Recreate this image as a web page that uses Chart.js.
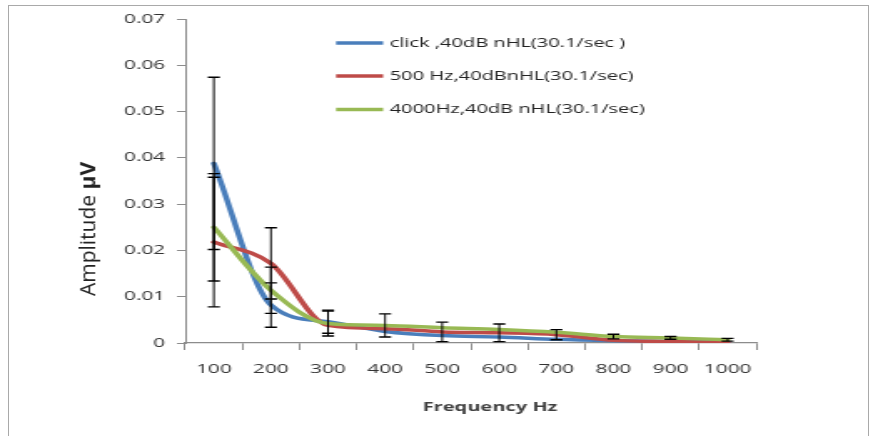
<!DOCTYPE html>
<html><head><meta charset="utf-8">
<script src="https://cdn.jsdelivr.net/npm/chart.js@4/dist/chart.umd.min.js"></script>
<style>
html,body{margin:0;padding:0;background:#fff;overflow:hidden;width:873px;height:436px;}
#frame{position:absolute;left:8px;top:5px;width:861px;height:445px;border:1.5px solid #a9a9a9;box-sizing:border-box;}
#wrap{position:absolute;left:0;top:0;width:523px;height:436px;transform:scaleX(1.66922);transform-origin:0 0;}
</style></head><body>
<div id="frame"></div>
<div id="wrap"><canvas id="c"></canvas></div>
<script>
// ---- data ----
const categories = ['100','200','300','400','500','600','700','800','900','1000'];
const clickValues  = [0.0388, 0.0082, 0.0046, 0.0025, 0.0016, 0.0013, 0.0008, 0.0005, 0.0003, 0.0002];
const hz500Values  = [0.0218, 0.0172, 0.0038, 0.0031, 0.0024, 0.0022, 0.0018, 0.0006, 0.0003, 0.0001];
const hz4000Values = [0.0250, 0.0114, 0.0042, 0.0038, 0.0033, 0.0029, 0.0023, 0.0014, 0.0011, 0.0007];
const clickErrors  = [0.0186, 0.0048, 0.0025, 0, 0, 0, 0, 0, 0, 0];
const hz500Errors  = [0.0140, 0.0077, 0, 0, 0.0021, 0.0019, 0.0011, 0, 0, 0];
const hz4000Errors = [0.0116, 0.0050, 0.0027, 0.0025, 0, 0, 0, 0.0005, 0.0003, 0.0003];
const seriesLabels = ['click ,40dB nHL(30.1/sec )', '500 Hz,40dBnHL(30.1/sec)', '4000Hz,40dB nHL(30.1/sec)'];
const yTitleMain = 'Amplitude ';
const yTitleUnit = '\u00B5V';
const xTitle = 'Frequency Hz';

const S = 873/523;
const FONT = "'Open Sans', 'DejaVu Sans', sans-serif";
Chart.defaults.font.family = FONT;
Chart.defaults.color = '#333';

const errorBars = {
  id: 'errorBars',
  afterDatasetsDraw(chart) {
    const ctx = chart.ctx, xs = chart.scales.x, ys = chart.scales.y;
    ctx.save();
    ctx.strokeStyle = '#000';
    chart.data.datasets.forEach((ds) => {
      ds.errors.forEach((e, i) => {
        if (!e) return;
        const v = ds.data[i];
        const x = xs.getPixelForValue(i);
        const yt = ys.getPixelForValue(v + e);
        const yb = ys.getPixelForValue(Math.max(0, v - e));
        ctx.lineWidth = 1;
        ctx.beginPath(); ctx.moveTo(x, yt); ctx.lineTo(x, yb); ctx.stroke();
        ctx.lineWidth = 1.4;
        ctx.beginPath();
        ctx.moveTo(x - 3.6, yt); ctx.lineTo(x + 3.6, yt);
        ctx.moveTo(x - 3.6, yb); ctx.lineTo(x + 3.6, yb);
        ctx.stroke();
      });
    });
    ctx.restore();
  }
};

const extras = {
  id: 'extras',
  afterDraw(chart) {
    const ctx = chart.ctx;
    // legend
    const rows = [43, 76, 109.5];
    ctx.save();
    chart.data.datasets.forEach((ds, i) => {
      ctx.strokeStyle = ds.borderColor;
      ctx.lineWidth = 3.5;
      ctx.beginPath(); ctx.moveTo(201.3, rows[i]); ctx.lineTo(229.5, rows[i]); ctx.stroke();
      ctx.fillStyle = '#222';
      ctx.font = "12px " + FONT;
      ctx.textBaseline = 'middle'; ctx.textAlign = 'left';
      ctx.fillText(ds.label, 233.5, rows[i] + 0.5);
    });
    // x title
    ctx.font = "bold 12px " + FONT;
    ctx.fillStyle = '#404040';
    ctx.textAlign = 'center'; ctx.textBaseline = 'middle';
    ctx.fillText(xTitle, 490 / S, 408);
    // y title (not stretched)
    ctx.translate(89 / S, 229);
    ctx.scale(1 / S, 1);
    ctx.rotate(-Math.PI / 2);
    const fN = "21px " + FONT, fB = "bold 21px " + FONT;
    ctx.font = fN; const w1 = ctx.measureText(yTitleMain).width;
    ctx.font = fB; const w2 = ctx.measureText(yTitleUnit).width;
    const start = -(w1 + w2) / 2;
    ctx.textAlign = 'left'; ctx.fillStyle = '#222';
    ctx.font = fN; ctx.fillText(yTitleMain, start, 0);
    ctx.font = fB; ctx.fillText(yTitleUnit, start + w1, 0);
    ctx.restore();
  }
};

const mk = (label, data, errors, color, order) => ({
  label, data, errors, borderColor: color, backgroundColor: color,
  borderWidth: 3.5, pointRadius: 0, cubicInterpolationMode: 'monotone',
  fill: false, order, borderCapStyle: 'round', borderJoinStyle: 'round'
});

new Chart(document.getElementById('c'), {
  type: 'line',
  data: {
    labels: categories,
    datasets: [
      mk(seriesLabels[0], clickValues, clickErrors, '#4A7EBB', 2),
      mk(seriesLabels[1], hz500Values, hz500Errors, '#BE4B48', 1),
      mk(seriesLabels[2], hz4000Values, hz4000Errors, '#98B954', 0)
    ]
  },
  options: {
    responsive: true, maintainAspectRatio: false, animation: false,
    devicePixelRatio: 1,
    layout: { padding: { left: 0, right: 70, top: 19, bottom: 0 } },
    plugins: { legend: { display: false }, tooltip: { enabled: false } },
    scales: {
      x: {
        type: 'category', offset: true,
        grid: { offset: true, drawOnChartArea: false, drawTicks: true, tickLength: 7, tickColor: '#8c8c8c', tickWidth: 1 },
        border: { display: true, color: '#8c8c8c', width: 1.3 },
        ticks: { autoSkip: false, maxRotation: 0, padding: 12, font: { size: 12.5 }, color: '#333' },
        afterFit(s) { s.height = 93; }
      },
      y: {
        min: 0, max: 0.07,
        grid: { drawOnChartArea: false, drawTicks: true, tickLength: 5, tickColor: '#8c8c8c', tickWidth: 1 },
        border: { display: true, color: '#8c8c8c', width: 1 },
        ticks: { stepSize: 0.01, padding: 7, font: { size: 12.5 }, color: '#333',
                 callback: (v) => v === 0 ? '0' : Number(v).toFixed(2) },
        afterFit(s) { s.width = 111; }
      }
    }
  },
  plugins: [errorBars, extras]
});
</script>
</body></html>
